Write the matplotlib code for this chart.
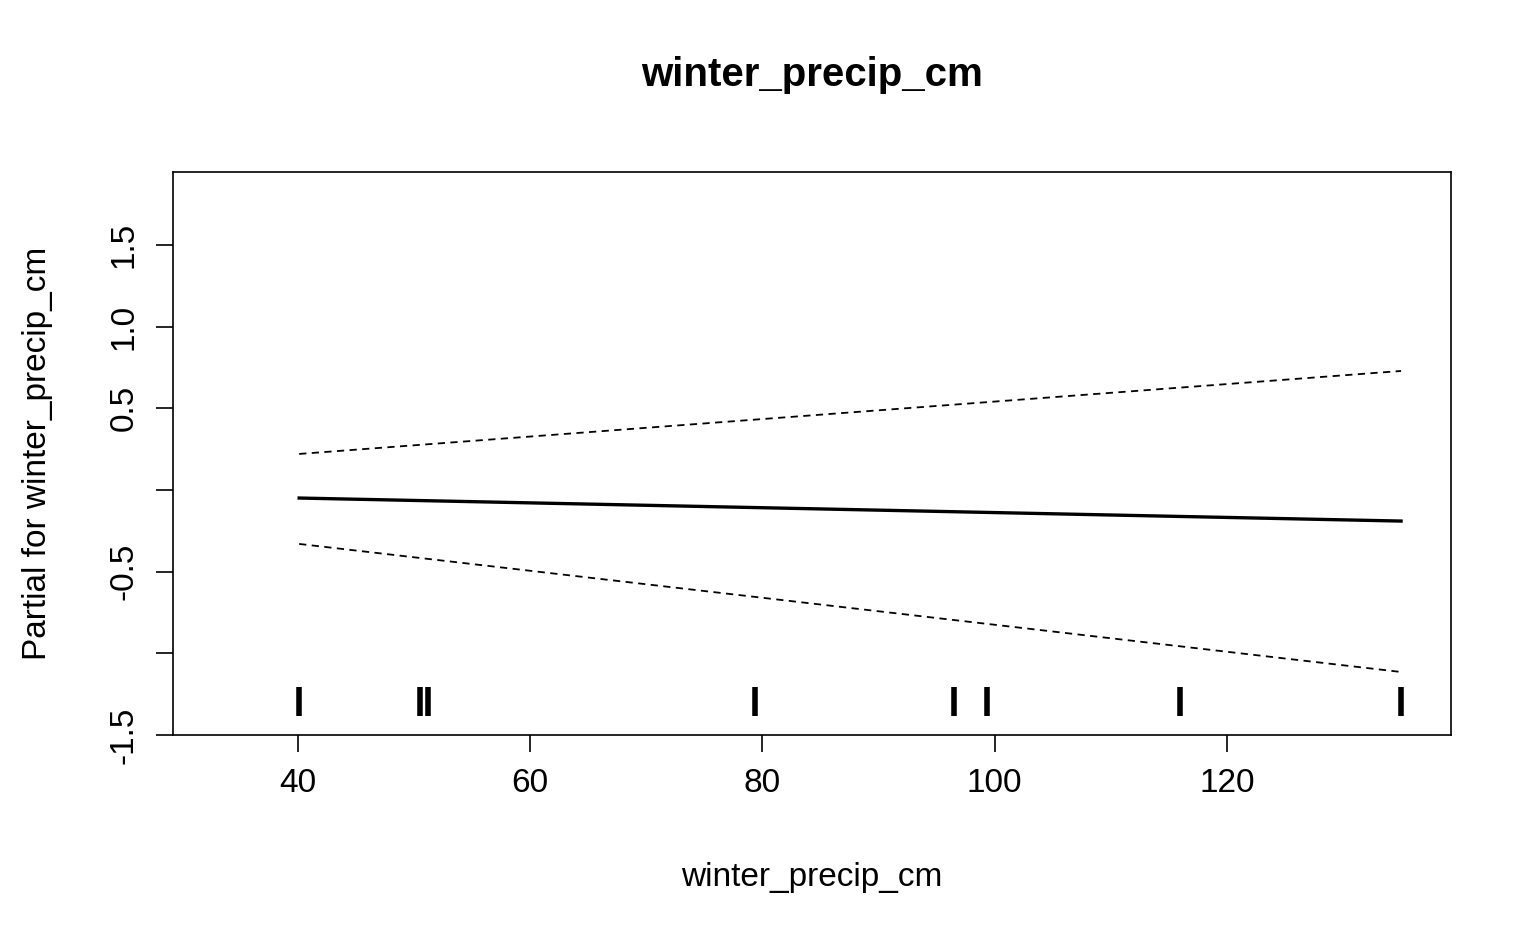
import matplotlib
matplotlib.use("Agg")
import matplotlib.pyplot as plt

plt.rcParams['font.family'] = ['Liberation Sans', 'DejaVu Sans']

# fitted partial effect (linear term) and its +/- 2 SE bands
fit_x = [40.1, 135.0]
fit_y = [-0.049, -0.19]
upper_y = [0.221, 0.729]
lower_y = [-0.33, -1.114]
rug_x = [40.1, 50.5, 51.2, 79.4, 96.5, 99.3, 116.0, 135.0]

yticks = [-1.5, -1.0, -0.5, 0.0, 0.5, 1.0, 1.5]
ylabels = ['-1.5', '', '-0.5', '', '0.5', '1.0', '1.5']
xticks = [40, 60, 80, 100, 120]

fig = plt.figure(figsize=(15.4, 9.51), dpi=100)
ax = fig.add_axes([0.1123, 0.2271, 0.8299, 0.592])

ax.plot(fit_x, fit_y, color='black', lw=2.4)
ax.plot(fit_x, upper_y, color='black', lw=1.3, ls=(0, (4, 3)))
ax.plot(fit_x, lower_y, color='black', lw=1.3, ls=(0, (4, 3)))
ax.vlines(rug_x, -1.384, -1.206, color='black', lw=4)

ax.set_xlim(29.23, 139.3)
ax.set_ylim(-1.5, 1.947)
ax.set_xticks(xticks)
ax.set_xticklabels([str(v) for v in xticks], fontsize=24)
ax.set_yticks(yticks)
ax.set_yticklabels(ylabels, fontsize=24, rotation=90, va='center')
ax.tick_params(length=12, width=1.2, pad=12)
for s in ax.spines.values():
    s.set_linewidth(1.2)

ax.set_xlabel('winter_precip_cm', fontsize=24, labelpad=45)
ax.set_ylabel('Partial for winter_precip_cm', fontsize=24, labelpad=40)
ax.set_title('winter_precip_cm', fontsize=29, fontweight='bold', pad=62)

fig.savefig('out.png', dpi=100)
